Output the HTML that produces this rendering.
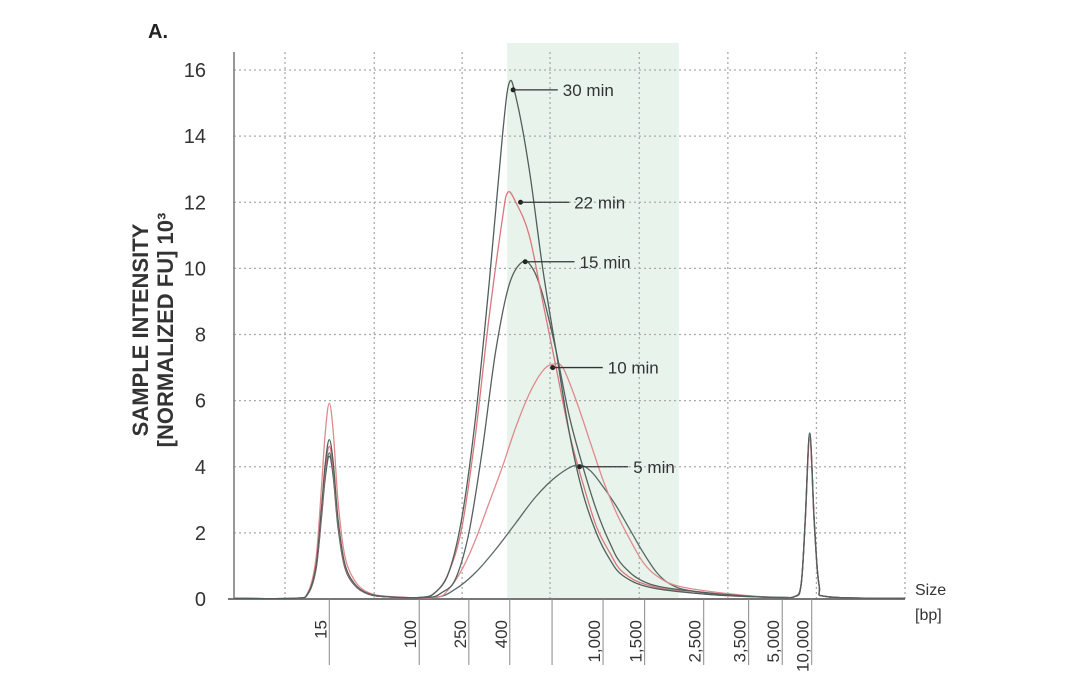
<!DOCTYPE html>
<html><head><meta charset="utf-8"><style>
body{margin:0;background:#fff;}
svg{display:block;font-family:"Liberation Sans",sans-serif;}
</style></head><body>
<svg id="chart" width="1080" height="684" viewBox="0 0 1080 684" xmlns="http://www.w3.org/2000/svg">
<text x="148" y="38" font-size="20" font-weight="bold" fill="#222">A.</text>
<g id="g"></g>
</svg>
<script>
const yTicks=[0,2,4,6,8,10,12,14,16];
const xGrid=[7.6,20.9,34,47.1,60.4,73.6,86.8,100];
const sizeLabels=["15","100","250","400","","1,000","1,500","2,500","3,500","5,000","10,000"];
const sizePos=[14.2,27.6,35.0,41.1,47.4,55.0,61.2,70.0,76.7,81.7,86.1];
const seriesNames=["30 min","22 min","15 min","10 min","5 min"];
const seriesColors=["#4f5f5c","#d9787c","#56605e","#df8a8c","#5a6a68"];
const ladderHeights=[4.8,4.6,4.3,5.9,4.4];
const upperHeights=[5.0,4.9,5.0,4.8,4.9];
const ladderX=[9,11,12.2,13,13.6,14.2,14.8,15.5,16.5,18,20,23];
const ladderY=[0,0.03,0.2,0.55,0.85,1,0.85,0.5,0.22,0.09,0.03,0.01];
const upperX=[83.5,84.5,85.1,85.8,86.5,87.2,88.5];
const upperY=[0.01,0.08,0.45,1,0.45,0.08,0.01];
const main30x=[28,30,32,34,36,38,40,41,42,44,46,48,50,52,54,56,58,62,70,80];
const main30y=[0.05,0.2,0.8,2.5,5.5,9.5,14,15.6,15.2,13,10,7.5,5,3.2,2,1.2,0.7,0.35,0.15,0.05];
const main22x=[28,30,32,34,36,38,40,40.8,42,44,46,48,50,52,54,56,58,62,70,80];
const main22y=[0.05,0.2,0.8,2.2,5,8.5,11.5,12.3,12,11,9,7,5,3.5,2.2,1.4,0.8,0.4,0.15,0.05];
const main15x=[29,31,33,35,37,39,41,43,44.5,46,48,50,52,54,56,58,62,70,80];
const main15y=[0.05,0.2,0.6,2,4.5,7.5,9.5,10.2,10,9.2,7.5,5.5,4,2.7,1.7,1,0.45,0.2,0.05];
const main10x=[30,32,34,36,38,40,42,44,46,47.5,49,51,53,55,57,59,61,63,66,72,80];
const main10y=[0.05,0.3,0.9,1.8,2.9,4,5.2,6.2,6.9,7.1,7,6,4.8,3.6,2.6,1.8,1.1,0.7,0.4,0.2,0.05];
const main5x=[30,33,36,39,42,45,48,51,53,55,57,59,61,63,65,68,75,82];
const main5y=[0.05,0.3,0.8,1.5,2.3,3.1,3.7,4.05,3.9,3.4,2.8,2.1,1.4,0.8,0.45,0.25,0.1,0.05];
const labelX=[41.6,42.7,43.4,47.5,51.5];
const labelY=[15.4,12.0,10.2,7.0,4.0];
const textX=[49,50.7,51.5,55.7,59.5];
const mainX=[main30x,main22x,main15x,main10x,main5x];
const mainY=[main30y,main22y,main15y,main10y,main5y];

const X0=234,X1=905,Y0=599,Y1=70;
const sx=v=>X0+(X1-X0)*v/100;
const sy=v=>Y0-(Y0-Y1)*v/16;
const NS="http://www.w3.org/2000/svg";
const g=document.getElementById('g');
function mk(tag,attrs,parent){const e=document.createElementNS(NS,tag);for(const k in attrs)e.setAttribute(k,attrs[k]);(parent||g).appendChild(e);return e;}
function smooth(P){
  let d='M'+P[0][0].toFixed(1)+','+P[0][1].toFixed(1);
  for(let i=0;i<P.length-1;i++){
    const p0=P[i-1]||P[i],p1=P[i],p2=P[i+1],p3=P[i+2]||p2;
    const c1x=p1[0]+(p2[0]-p0[0])/6,c1y=p1[1]+(p2[1]-p0[1])/6;
    const c2x=p2[0]-(p3[0]-p1[0])/6,c2y=p2[1]-(p3[1]-p1[1])/6;
    d+=`C${c1x.toFixed(1)},${Math.min(c1y,Y0).toFixed(1)} ${c2x.toFixed(1)},${Math.min(c2y,Y0).toFixed(1)} ${p2[0].toFixed(1)},${p2[1].toFixed(1)}`;
  }
  return d;
}

let e=mk('rect',{x:sx(40.7),y:43,width:sx(66.3)-sx(40.7),height:Y0-43,fill:'#e8f4eb'});



yTicks.forEach(t=>{
  if(t>0){let l=mk('line',{x1:X0,x2:X1,y1:sy(t),y2:sy(t),stroke:'#aaa','stroke-dasharray':'2,3','stroke-width':1.3});
  
  }
  let tx=mk('text',{x:206,y:sy(t)+7,'font-size':20,'text-anchor':'end',fill:'#333'});
  tx.textContent=t;
  
  
});
xGrid.forEach(v=>{
  let l=mk('line',{x1:sx(v),x2:sx(v),y1:52,y2:Y0,stroke:'#aaa','stroke-dasharray':'2,3','stroke-width':1.3});
  
  
});
e=mk('line',{x1:X0,x2:X0,y1:52,y2:Y0,stroke:'#777','stroke-width':1.5});


e=mk('line',{x1:228,x2:X1,y1:Y0,y2:Y0,stroke:'#777','stroke-width':2});



sizePos.forEach((v,i)=>{
  let l=mk('line',{x1:sx(v),x2:sx(v),y1:Y0,y2:665,stroke:'#888','stroke-width':1});
  
  
  if(sizeLabels[i]){
    let t=mk('text',{x:0,y:0,'font-size':17,'text-anchor':'end',fill:'#333',transform:`translate(${sx(v)-3},620) rotate(-90)`});
    t.textContent=sizeLabels[i];
    
    
  }
});

for(let i=4;i>=0;i--){
  const pts=[[0,0.02]];
  ladderX.forEach((x,k)=>pts.push([x,ladderY[k]*ladderHeights[i]+0.02]));
  mainX[i].forEach((x,k)=>pts.push([x,mainY[i][k]]));
  upperX.forEach((x,k)=>pts.push([x,upperY[k]*upperHeights[i]+0.02]));
  pts.push([100,0.02]);
  const P=pts.map(p=>[sx(p[0]),sy(p[1])]);
  let p=mk('path',{d:smooth(P),fill:'none',stroke:seriesColors[i],'stroke-width':1.3,'stroke-linejoin':'round'});
  
  
}
seriesNames.forEach((n,i)=>{
  let c=mk('circle',{cx:sx(labelX[i]),cy:sy(labelY[i]),r:2.5,fill:'#222'});
  
  
  let l=mk('line',{x1:sx(labelX[i]),x2:sx(textX[i])-5,y1:sy(labelY[i]),y2:sy(labelY[i]),stroke:'#333','stroke-width':1.3});
  
  
  let t=mk('text',{x:sx(textX[i]),y:sy(labelY[i])+6,'font-size':17,fill:'#333'});
  t.textContent=n;
  
  
});
let yt=mk('text',{x:0,y:0,'font-size':22,'font-weight':'bold','text-anchor':'middle',fill:'#333',transform:'translate(148,330) rotate(-90)'});
yt.textContent='SAMPLE INTENSITY';


let yt2=mk('text',{x:0,y:0,'font-size':22,'font-weight':'bold','text-anchor':'middle',fill:'#333',transform:'translate(173,330) rotate(-90)'});
yt2.textContent='[NORMALIZED FU] 10³';


let s1=mk('text',{x:915,y:595,'font-size':16,fill:'#333'});
s1.textContent='Size';


let s2=mk('text',{x:915,y:620,'font-size':16,fill:'#333'});
s2.textContent='[bp]';


</script>
</body></html>
